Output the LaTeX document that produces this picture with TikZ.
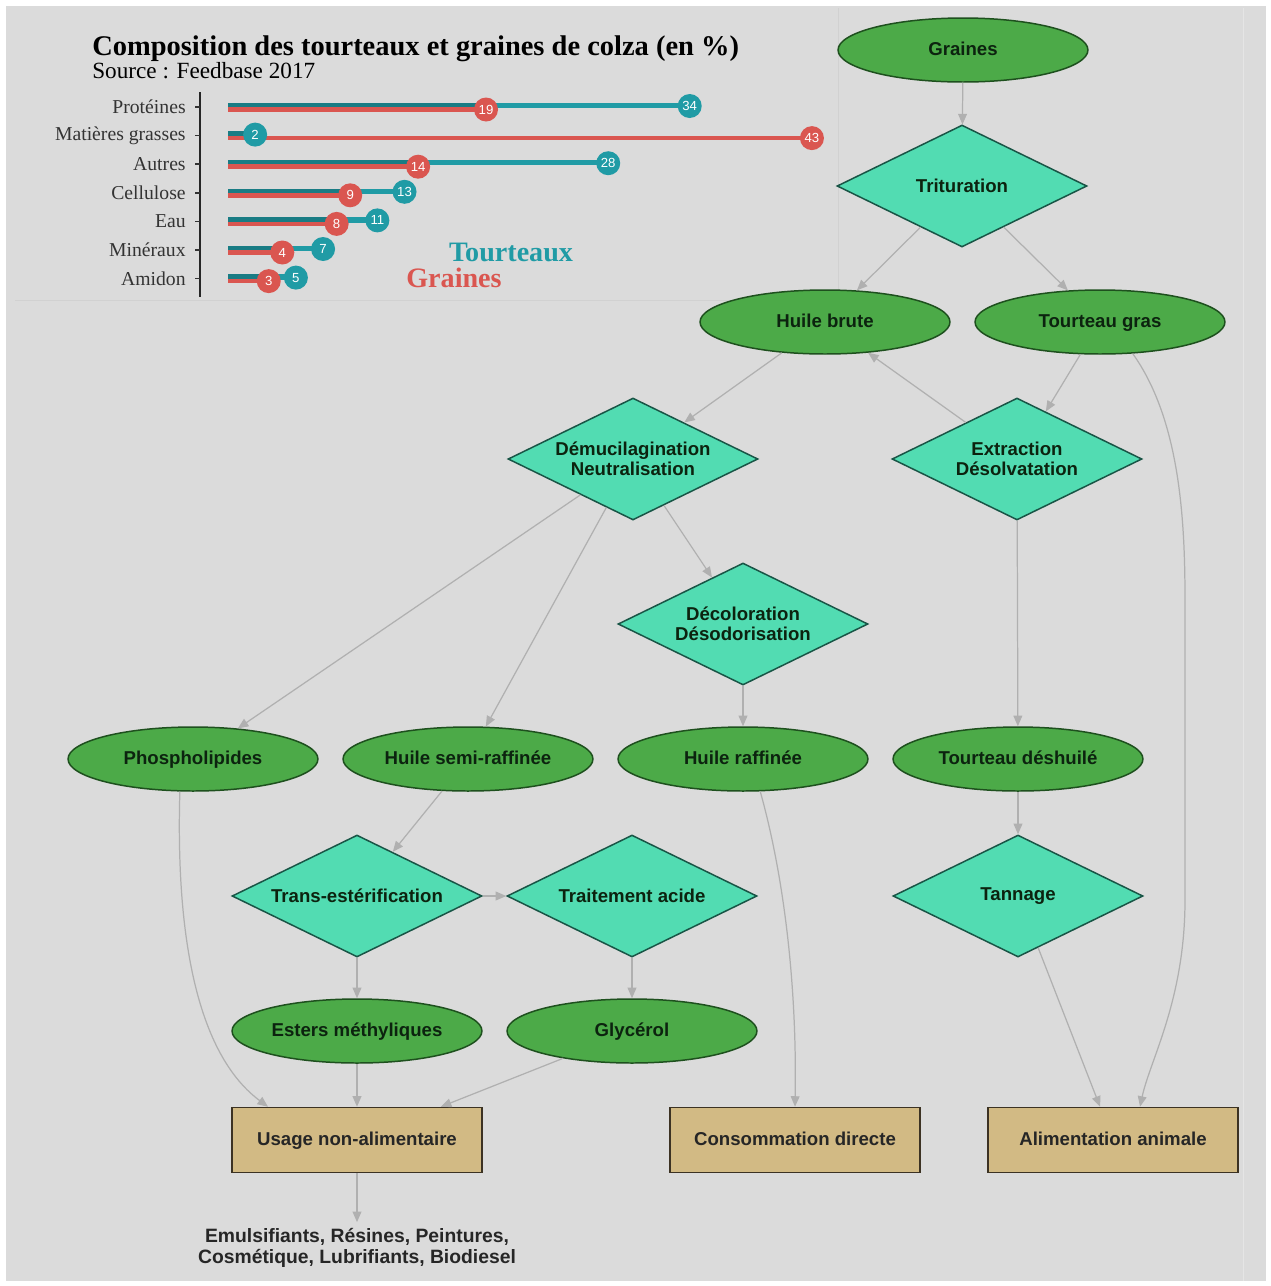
\documentclass[tikz,border=0pt]{standalone}
\usepackage{fontspec}
\setmainfont{Liberation Serif}
\setsansfont{Liberation Sans}
\usetikzlibrary{shapes.geometric,arrows.meta}

\definecolor{bgcol}{RGB}{219,219,219}
\definecolor{tcol}{RGB}{32,155,165}
\definecolor{gcol}{RGB}{218,86,80}
\definecolor{elfill}{RGB}{76,170,72}
\definecolor{eldraw}{RGB}{30,80,30}
\definecolor{difill}{RGB}{82,220,178}
\definecolor{didraw}{RGB}{25,85,70}
\definecolor{bxfill}{RGB}{210,186,132}
\definecolor{bxdraw}{RGB}{60,50,35}
\definecolor{edgecol}{RGB}{176,176,176}
\definecolor{txtcol}{RGB}{12,35,15}

\begin{document}
\begin{tikzpicture}[x=0.02cm,y=-0.02cm,
  prod/.style={ellipse, draw=eldraw, fill=elfill, line width=0.85pt, minimum width=5cm, minimum height=1.28cm, inner sep=0pt, text height=0.8em, text depth=0.2em, text=txtcol, font=\sffamily\bfseries\fontsize{10.6}{11.5}\selectfont},
  proc/.style={diamond, aspect=2, draw=didraw, fill=difill, line width=0.85pt, minimum width=5cm, minimum height=2.44cm, inner sep=0pt, align=center, text=txtcol, font=\sffamily\bfseries\fontsize{10.6}{11.5}\selectfont},
  outlet/.style={rectangle, draw=bxdraw, fill=bxfill, line width=0.85pt, minimum width=5cm, minimum height=1.3cm, text height=0.8em, text depth=0.2em, text=black!85, font=\sffamily\bfseries\fontsize{10.6}{11.5}\selectfont},
  flow/.style={draw=edgecol, line width=0.7pt, -{Triangle[length=6pt,width=5pt]}},
  dot/.style={circle, inner sep=0pt, minimum size=0.48cm, text=white, font=\sffamily\fontsize{7.5}{9}\selectfont}]

\fill[white] (0,0) rectangle (1271,1286);
\fill[bgcol] (6,6) rectangle (1266,1281);
\useasboundingbox (0,0) rectangle (1271,1286);
\draw[black!18] (15,300) -- (838,300);
\draw[black!18] (838,8) -- (838,290);
\draw[black!10] (1243,8) -- (1243,1281);

% composition chart
\node[anchor=base west, inner sep=0pt, font=\bfseries\fontsize{16.2}{19}\selectfont] (titre) at (92,55) {Composition des tourteaux et graines de colza (en \%)};
\node[anchor=base west, inner sep=0pt, font=\fontsize{13.2}{15}\selectfont] (source) at (92,78) {Source : Feedbase 2017};
\draw[black!85, line width=1.2pt] (200,92) -- (200,297);

\foreach \lab/\tv/\gv [count=\i] in {Protéines/34/19, Matières grasses/2/43, Autres/28/14, Cellulose/13/9, Eau/11/8, Minéraux/7/4, Amidon/5/3}
{
\pgfmathsetmacro\yy{107+28.6*(\i-1)}
\draw[black!80, line width=1pt] (195,\yy) -- (200,\yy);
\node[anchor=east, inner sep=0pt, text=black!80, font=\fontsize{11.2}{12}\selectfont] (cat\i) at (186,\yy) {\lab};
\draw[tcol!80!black, line width=3pt] (228,{\yy-1.5}) -- ({228+13.58*min(\tv,\gv)},{\yy-1.5});
\draw[tcol, line width=3pt] ({228+13.58*min(\tv,\gv)},{\yy-1.5}) -- ({228+13.58*\tv},{\yy-1.5});
\draw[gcol, line width=2.6pt] (228,{\yy+2.5}) -- ({228+13.58*\gv},{\yy+2.5});
\node[dot, fill=tcol] (t\i) at ({228+13.58*\tv},{\yy-1}) {\tv};
\node[dot, fill=gcol] (g\i) at ({228+13.58*\gv},{\yy+2.5}) {\gv};
}

\node[font=\bfseries\fontsize{16}{19}\selectfont, text=tcol] (legt) at (511,252) {Tourteaux};
\node[font=\bfseries\fontsize{16}{19}\selectfont, text=gcol] (legg) at (454,278) {Graines};

% flow chart
\node[prod] (gr) at (963,50) {Graines};
\node[proc] (tri) at (962,186) {Trituration};
\node[prod] (hb) at (825,322) {Huile brute};
\node[prod] (tg) at (1100,322) {Tourteau gras};
\node[proc] (dem) at (633,459) {Démucilagination\\Neutralisation};
\node[proc] (ext) at (1017,459) {Extraction\\Désolvatation};
\node[proc] (dec) at (743,624) {Décoloration\\Désodorisation};
\node[prod] (pho) at (193,759) {Phospholipides};
\node[prod] (hsr) at (468,759) {Huile semi-raffinée};
\node[prod] (hr) at (743,759) {Huile raffinée};
\node[prod] (td) at (1018,759) {Tourteau déshuilé};
\node[proc] (trans) at (357,896) {Trans-estérification};
\node[proc] (tac) at (632,896) {Traitement acide};
\node[proc] (tan) at (1018,896) {Tannage};
\node[prod] (est) at (357,1031) {Esters méthyliques};
\node[prod] (gly) at (632,1031) {Glycérol};
\node[outlet] (una) at (357,1140) {Usage non-alimentaire};
\node[outlet] (cd) at (795,1140) {Consommation directe};
\node[outlet] (aa) at (1113,1140) {Alimentation animale};
\node[align=center, text=black!85, font=\sffamily\bfseries\fontsize{11}{12}\selectfont] (debouches) at (357,1248) {Emulsifiants, Résines, Peintures,\\Cosmétique, Lubrifiants, Biodiesel};

\draw[flow] (gr) -- (tri);
\draw[flow] (tri) -- (hb);
\draw[flow] (tri) -- (tg);
\draw[flow] (tg) -- (ext);
\draw[flow] (ext) -- (hb);
\draw[flow] (hb) -- (dem);
\draw[flow] (dem) -- (pho);
\draw[flow] (dem) -- (hsr);
\draw[flow] (dem) -- (dec);
\draw[flow] (dec) -- (hr);
\draw[flow] (ext) -- (td);
\draw[flow] (td) -- (tan);
\draw[flow] (hsr) -- (trans);
\draw[flow] (trans) -- (tac);
\draw[flow] (trans) -- (est);
\draw[flow] (tac) -- (gly);
\draw[flow] (est) -- (una);
\draw[flow] (gly) -- (una);
\draw[flow] (tan) -- (aa);
\draw[flow] (una) -- (debouches);
\draw[flow] (pho.-112) .. controls (175,960) and (205,1060) .. ([xshift=-1.78cm]una.north);
\draw[flow] (hr.-62) .. controls (785,880) and (797,990) .. (cd.north);
\draw[flow] (tg.-44) .. controls (1180,420) and (1185,520) .. (1185,600) -- (1185,900) .. controls (1185,1000) and (1150,1060) .. ([xshift=0.54cm]aa.north);
\end{tikzpicture}
\end{document}
